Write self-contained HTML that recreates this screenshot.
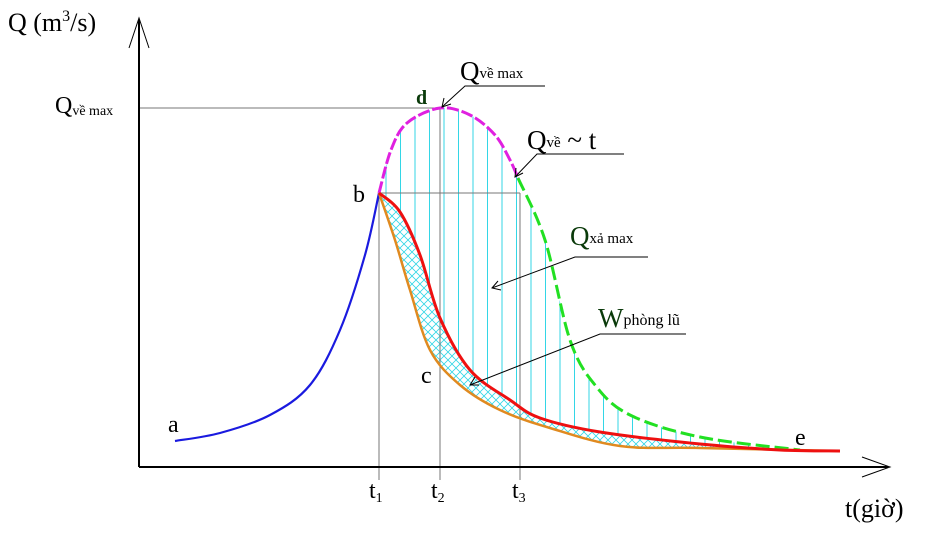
<!DOCTYPE html>
<html><head><meta charset="utf-8"><style>
html,body{margin:0;padding:0;background:#fff;width:940px;height:547px;overflow:hidden}
svg{display:block}
text{font-family:"Liberation Serif",serif;fill:#000}
</style></head><body>
<svg id="chart" width="940" height="547" viewBox="0 0 940 547" xmlns="http://www.w3.org/2000/svg">
<defs>
<pattern id="xh" width="8" height="8" patternUnits="userSpaceOnUse">
<path d="M0,0L8,8M8,0L0,8" stroke="#33d6e6" stroke-width="0.8"/>
</pattern>
<clipPath id="clipUpper"><path id="clipUpperPath"/></clipPath>
<clipPath id="clipLower"><path id="clipLowerPath"/></clipPath>
</defs>
<g id="hatch"></g>
<rect id="xhRect" x="370" y="180" width="480" height="290" fill="url(#xh)" clip-path="url(#clipLower)"/>
<g id="guides"></g>
<g id="curves"></g>
<g stroke="#000" stroke-width="2" fill="none">
<line x1="139" y1="467" x2="139" y2="20"/>
<polyline points="129,48 139,18 149,48" stroke-width="1"/>
<line x1="139" y1="467" x2="888" y2="467"/>
<polyline points="862,457 890,467 862,477" stroke-width="1"/>
</g>
<g stroke="#000" stroke-width="1" fill="none">
<polyline points="545,86 465,86 442,107"/>
<polyline points="624,154 537,154 515,177"/>
<polyline points="648,257 575,257 492,288"/>
<polyline points="686,334 600,334 470,385"/>
</g>
<g stroke="#000" stroke-width="1" fill="none">
<polyline points="444,98 442,107 451,104"/>
<polyline points="516,168 515,177 523,173"/>
<polyline points="498,281 492,288 501,290"/>
<polyline points="475,377 470,385 479,385"/>
</g>
<text x="8" y="31" font-size="26">Q (m<tspan font-size="16" dy="-10">3</tspan><tspan dy="10">/s)</tspan></text>
<text x="845" y="517" font-size="26">t(giờ)</text>
<text x="55" y="113" font-size="24">Q<tspan font-size="14" dy="2">về max</tspan></text>
<text x="460" y="80" font-size="27">Q<tspan font-size="15" dy="-2">về max</tspan></text>
<text x="527" y="149" font-size="27">Q<tspan font-size="15" dy="-2">về</tspan><tspan dy="2"> ~ t</tspan></text>
<text x="570" y="245" font-size="27" style="fill:#0a3a0a">Q<tspan font-size="15" dy="-2" style="fill:#000">xả max</tspan></text>
<text x="598" y="327" font-size="27" style="fill:#0a3a0a">W<tspan font-size="16" dy="-2" style="fill:#000">phòng lũ</tspan></text>
<text x="168" y="432" font-size="24">a</text>
<text x="353" y="202" font-size="24">b</text>
<text x="421" y="383" font-size="24">c</text>
<text x="416" y="104" font-size="20" font-weight="bold" style="fill:#0a3a0a">d</text>
<text x="795" y="445" font-size="24">e</text>
<text x="369" y="498" font-size="24">t<tspan font-size="14" dy="4">1</tspan></text>
<text x="431" y="498" font-size="24">t<tspan font-size="14" dy="4">2</tspan></text>
<text x="512" y="498" font-size="24">t<tspan font-size="14" dy="4">3</tspan></text>
</svg>
<script>
// data: t (pixel-equivalent time units from origin), Q (pixel-equivalent discharge units)
const risingT = [36, 81, 131, 171, 201, 226, 240];
const risingQ = [26, 34, 52, 82, 137, 212, 274];
const peakT = [240, 252, 268, 301, 331, 356, 371, 379];
const peakQ = [274, 317, 344, 359, 352, 332, 307, 289];
const recessT = [379, 406, 431, 456, 491, 561, 661];
const recessQ = [289, 227, 127, 82, 52, 30, 17];
const redT = [240, 261, 281, 301, 331, 371, 401, 461, 561, 641, 701];
const redQ = [274, 255, 212, 149, 97, 67, 49, 35, 23, 17, 16];
const orangeT = [240, 256, 271, 291, 321, 361, 411, 481, 561, 701];
const orangeQ = [274, 227, 177, 117, 82, 57, 39, 21, 19, 16];
const keyT = [240, 301, 381]; // t1, t2, t3
const qMax = 359, qB = 274;

const X0 = 139, Y0 = 467;
const xs = t => X0 + t, ys = q => Y0 - q;
const NS = "http://www.w3.org/2000/svg";
function pts(T, Q){ return T.map((t,i)=>[xs(t), ys(Q[i])]); }
function smooth(p){
  let d = "M"+p[0][0]+","+p[0][1];
  for(let i=0;i<p.length-1;i++){
    const p0=p[Math.max(i-1,0)],p1=p[i],p2=p[i+1],p3=p[Math.min(i+2,p.length-1)];
    const c1=[p1[0]+(p2[0]-p0[0])/6,p1[1]+(p2[1]-p0[1])/6];
    const c2=[p2[0]-(p3[0]-p1[0])/6,p2[1]-(p3[1]-p1[1])/6];
    d+="C"+c1[0]+","+c1[1]+" "+c2[0]+","+c2[1]+" "+p2[0]+","+p2[1];
  }
  return d;
}
function revPath(p){ return smooth(p.slice().reverse()).replace(/^M/,"L"); }

const curves = document.getElementById('curves');
function addCurve(T,Q,color,w,dash,name){
  const el=document.createElementNS(NS,'path');
  el.setAttribute('d',smooth(pts(T,Q)));
  el.setAttribute('fill','none');el.setAttribute('stroke',color);el.setAttribute('stroke-width',w);
  if(dash) el.setAttribute('stroke-dasharray',dash);
  
  
  curves.appendChild(el);
}

const upper = pts(peakT,peakQ).concat(pts(recessT,recessQ).slice(1));
const red = pts(redT,redQ), orange = pts(orangeT,orangeQ);
document.getElementById('clipUpperPath').setAttribute('d', smooth(upper)+revPath(red)+"Z");
document.getElementById('clipLowerPath').setAttribute('d', smooth(red)+revPath(orange)+"Z");

const hatch=document.getElementById('hatch');
hatch.setAttribute('clip-path','url(#clipUpper)');
for(let x=xs(keyT[0])+7;x<xs(recessT[recessT.length-1]);x+=14.5){
  const l=document.createElementNS(NS,'line');
  l.setAttribute('x1',x);l.setAttribute('x2',x);l.setAttribute('y1',ys(qMax)-5);l.setAttribute('y2',Y0);
  l.setAttribute('stroke','#33d6e6');l.setAttribute('stroke-width','1');
  
  
  hatch.appendChild(l);
}

const guides=document.getElementById('guides');
function gl(x1,y1,x2,y2,name){
  const l=document.createElementNS(NS,'line');
  l.setAttribute('x1',x1);l.setAttribute('y1',y1);l.setAttribute('x2',x2);l.setAttribute('y2',y2);
  l.setAttribute('stroke','#777');l.setAttribute('stroke-width','1');
  
  
  guides.appendChild(l);
}
gl(X0,ys(qMax),xs(keyT[1]),ys(qMax),'qmax-guide');
gl(xs(keyT[0]),ys(qB),xs(keyT[2]),ys(qB),'qb-guide');
gl(xs(keyT[0]),ys(qB),xs(keyT[0]),Y0+13,'t1-guide');
gl(xs(keyT[1]),ys(qMax),xs(keyT[1]),Y0+13,'t2-guide');
gl(xs(keyT[2]),ys(qB),xs(keyT[2]),Y0+13,'t3-guide');

addCurve(risingT,risingQ,'#1a1adf',2.2,null,'rising-limb-curve');
addCurve(peakT,peakQ,'#e020e0',3,'12,3','inflow-peak-curve');
addCurve(recessT,recessQ,'#22e022',3,'14,5','inflow-recession-curve');
addCurve(orangeT,orangeQ,'#e08a20',2.5,null,'lower-outflow-curve');
addCurve(redT,redQ,'#ee1010',3,null,'outflow-curve');
</script>
</body></html>
